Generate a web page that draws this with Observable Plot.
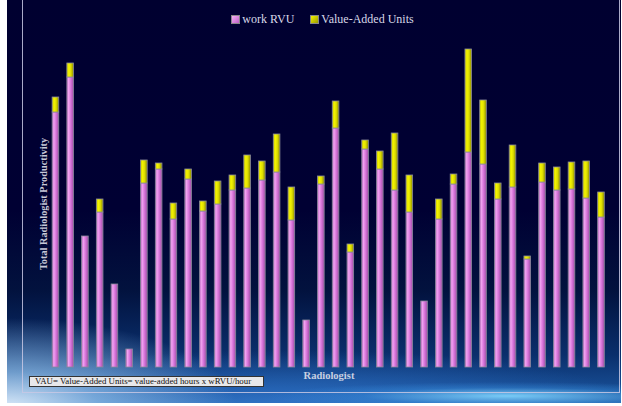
<!DOCTYPE html>
<html>
<head>
<meta charset="utf-8">
<script src="https://cdn.jsdelivr.net/npm/d3@7"></script>
<script src="https://cdn.jsdelivr.net/npm/@observablehq/plot@0.6"></script>
<style>
  html, body { margin: 0; padding: 0; background: #ffffff; }
  #wrap { position: relative; width: 622px; height: 406px; overflow: hidden; background: #ffffff; }
  #panel {
    position: absolute; left: 7px; top: 0; width: 614px; height: 403px;
    background:
      radial-gradient(ellipse 230px 90px at 0px 408px, rgba(228,240,252,0.95) 0%, rgba(150,195,235,0.7) 40%, rgba(60,120,190,0) 100%),
      radial-gradient(ellipse 240px 14px at 500px 396px, rgba(130,215,255,0.9) 0%, rgba(60,150,230,0.35) 60%, rgba(0,0,0,0) 100%),
      radial-gradient(ellipse 340px 50px at 280px 400px, rgba(50,120,210,0.65) 0%, rgba(0,0,0,0) 100%),
      linear-gradient(to bottom, #000030 0px, #000033 210px, #02123e 290px, #0a2f6c 355px, #184f96 392px, #2a66aa 403px);
  }
  #frame {
    position: absolute; left: 22px; top: -4px; width: 596px; height: 395px;
    border: 1.5px solid rgba(200,200,228,0.85);
  }
  #legend {
    position: absolute; top: 12px; left: 0; width: 622px; display: flex; justify-content: center; gap: 16px;
    font-family: "Liberation Serif", serif; font-size: 12px; color: #d8d8e8; padding-left: 23px; box-sizing: border-box;
  }
  #legend span.item { display: flex; align-items: center; }
  #legend span.sw { width: 7px; height: 7px; margin-right: 2px; display: inline-block; border: 0.5px solid #888; }
  #ylabel {
    position: absolute; left: 43px; top: 204px; transform: translate(-50%, -50%) rotate(-90deg);
    font-family: "Liberation Serif", serif; font-weight: bold; font-size: 10.3px; color: #c8c8d8; white-space: nowrap;
  }
  #xlabel {
    position: absolute; left: 329px; top: 375px; transform: translate(-50%, -50%);
    font-family: "Liberation Serif", serif; font-weight: bold; font-size: 10.5px; color: #c8d0e2; white-space: nowrap;
  }
  #caption {
    position: absolute; left: 29px; top: 376px; width: 228px; height: 9px;
    background: #e8e8ea; border: 1px solid #333; box-sizing: content-box;
    font-family: "Liberation Serif", serif; font-size: 8.8px; line-height: 9px; color: #111; padding-left: 5px; white-space: nowrap;
  }
  #chart { position: absolute; left: 0; top: 0; }
</style>
</head>
<body>
<svg width="0" height="0" style="position:absolute">
  <defs>
    <linearGradient id="gPink" x1="0" x2="1" y1="0" y2="0">
      <stop offset="0%" stop-color="#b060b8"/>
      <stop offset="25%" stop-color="#f0a4f0"/>
      <stop offset="55%" stop-color="#dc78de"/>
      <stop offset="100%" stop-color="#a050a8"/>
    </linearGradient>
    <linearGradient id="gYellow" x1="0" x2="1" y1="0" y2="0">
      <stop offset="0%" stop-color="#c8c800"/>
      <stop offset="30%" stop-color="#f4f400"/>
      <stop offset="60%" stop-color="#dede00"/>
      <stop offset="100%" stop-color="#8c8c00"/>
    </linearGradient>
  </defs>
</svg>
<div id="wrap">
  <div id="panel"></div>
  <div id="frame"></div>
  <div id="legend"></div>
  <div id="chart"></div>
  <div id="ylabel">Total Radiologist Productivity</div>
  <div id="xlabel">Radiologist</div>
  <div id="caption">VAU= Value-Added Units= value-added hours x wRVU/hour</div>
</div>
<script>
const radiologists = ["R1","R2","R3","R4","R5","R6","R7","R8","R9","R10",
  "R11","R12","R13","R14","R15","R16","R17","R18","R19","R20",
  "R21","R22","R23","R24","R25","R26","R27","R28","R29","R30",
  "R31","R32","R33","R34","R35","R36","R37","R38"];
const workRVU = [255,290,131,155,83,18,184,198,148,188,
  156,163,177,179,187,195,147,47,183,239,
  115,218,198,177,155,66,148,183,215,203,
  168,180,108,185,177,178,169,150];
const valueAdded = [15,14,0,13,0,0,23,6,16,10,
  10,23,15,33,19,38,33,0,8,27,
  8,9,18,57,37,0,20,10,103,64,
  16,42,3,19,23,27,37,25];
const seriesNames = ["work RVU", "Value-Added Units"];
const seriesFills = ["url(#gPink)", "url(#gYellow)"];
const swatchCss = ["linear-gradient(135deg,#f4b0f4,#c060c8)", "linear-gradient(135deg,#f4f400,#9a9a00)"];

const rows = [];
radiologists.forEach((r, i) => {
  rows.push({radiologist: r, series: seriesNames[0], value: workRVU[i]});
  rows.push({radiologist: r, series: seriesNames[1], value: valueAdded[i]});
});

const chart = Plot.plot({
  width: 622,
  height: 406,
  marginLeft: 44,
  marginRight: 9.6,
  marginTop: 36,
  marginBottom: 39,
  style: {background: "transparent"},
  x: {domain: radiologists, padding: 0.55, round: false, axis: null},
  y: {domain: [0, 331], axis: null},
  color: {domain: seriesNames, range: seriesFills},
  marks: [
    Plot.barY(rows, Plot.stackY({
      x: "radiologist",
      y: "value",
      fill: "series",
      filter: d => d.value > 0,
      stroke: "#8a8a9c",
      strokeWidth: 0.8,
      order: seriesNames
    }))
  ]
});
document.getElementById("chart").appendChild(chart);

const legend = document.getElementById("legend");
seriesNames.forEach((s, i) => {
  const item = document.createElement("span");
  item.className = "item";
  const sw = document.createElement("span");
  sw.className = "sw";
  sw.style.background = swatchCss[i];
  item.appendChild(sw);
  item.appendChild(document.createTextNode(s));
  legend.appendChild(item);
});
</script>
</body>
</html>
